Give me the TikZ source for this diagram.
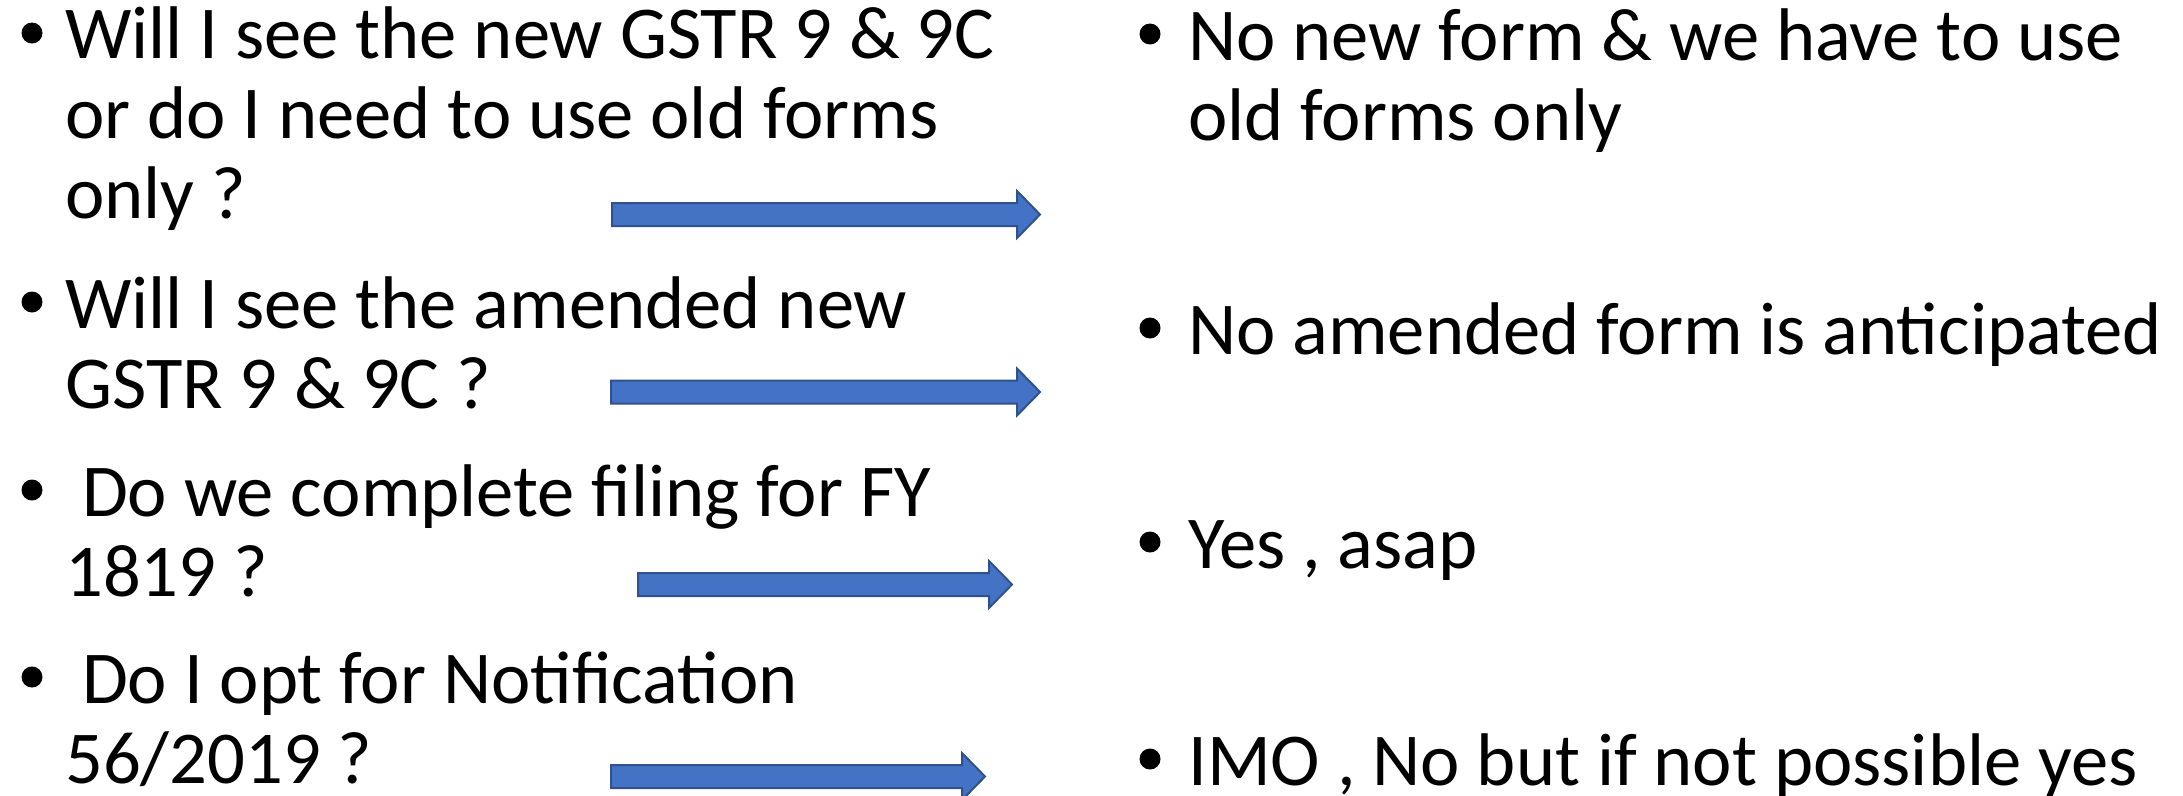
\documentclass[tikz,border=0pt]{standalone}
\usepackage{fontspec}
\setmainfont{Carlito}
\definecolor{arrowblue}{HTML}{4472C4}
\definecolor{arrowedge}{HTML}{2F528F}
\begin{document}
\begin{tikzpicture}[x=1pt,y=-1pt,
  item/.style={anchor=base west, inner sep=0pt, align=left,
    font=\fontsize{74.6}{80}\selectfont},
  dot/.style={circle, fill=black, inner sep=0pt, minimum size=21pt},
  blockarrow/.style={fill=arrowblue, draw=arrowedge, line width=2pt, line join=miter}]
\useasboundingbox (0,0) rectangle (2183,795);

% questions (left column); each node sits on the baseline of its last line
\node[item] (q1) at (65,218) {Will I see the new GSTR 9 \& 9C\\or do I need to use old forms\\only ?};
\node[item] (q2) at (65,408) {Will I see the amended new\\GSTR 9 \& 9C ?};
\node[item] (q3) at (65,596) {\ Do we complete filing for FY\\1819 ?};
\node[item] (q4) at (65,783) {\ Do I opt for Notification\\56/2019 ?};

% answers (right column)
\node[item] (a1) at (1188,140) {No new form \& we have to use\\old forms only};
\node[item] (a2) at (1188,354) {No amended form is anticipated};
\node[item] (a3) at (1188,568) {Yes , asap};
\node[item] (a4) at (1188,785) {IMO , No but if not possible yes};

% bullets, beside the first line of each item
\foreach \n/\y in {b1/59, b2/328, b3/516, b4/703}
  \node[dot] (\n) at (32,\y-26) {};
\foreach \n/\y in {c1/60, c2/354, c3/568, c4/785}
  \node[dot] (\n) at (1150,\y-26) {};

% block arrows: tail x, head start x, tip x, centre y
\foreach \t/\h/\p/\c in {612/1017/1040/214.5, 611/1017/1040/392, 638/989/1012/584.5, 611/962/985/776.5}
  \draw[blockarrow] (\t,\c-11.5) -- (\h,\c-11.5) -- (\h,\c-23.5) -- (\p,\c)
    -- (\h,\c+23.5) -- (\h,\c+11.5) -- (\t,\c+11.5) -- cycle;
\end{tikzpicture}
\end{document}
